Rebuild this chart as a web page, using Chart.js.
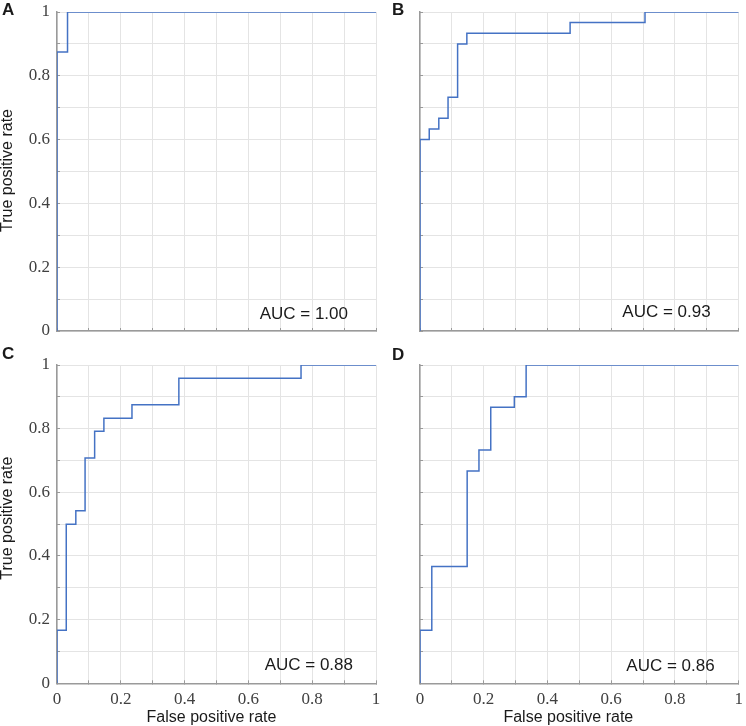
<!DOCTYPE html>
<html>
<head>
<meta charset="utf-8">
<script src="https://cdn.jsdelivr.net/npm/chart.js@4.4.0/dist/chart.umd.min.js"></script>
<style>
html,body{margin:0;padding:0;background:#fff;}
#wrap{position:relative;width:746px;height:726px;overflow:hidden;background:#fff;}
canvas{position:absolute;}
.lbl{position:absolute;font:bold 17px "Liberation Sans",Arial,sans-serif;color:#1a1a1a;line-height:1;}
</style>
</head>
<body>
<div id="wrap">
  <canvas id="cA" width="380" height="360" style="left:0px;top:0px;width:380px;height:360px"></canvas>
  <canvas id="cB" width="366" height="360" style="left:380px;top:0px;width:366px;height:360px"></canvas>
  <canvas id="cC" width="390" height="376" style="left:0px;top:350px;width:390px;height:376px"></canvas>
  <canvas id="cD" width="366" height="376" style="left:380px;top:350px;width:366px;height:376px"></canvas>
  <div class="lbl" id="lA" style="left:2px;top:1px"></div>
  <div class="lbl" id="lB" style="left:392px;top:1px"></div>
  <div class="lbl" id="lC" style="left:2px;top:345px"></div>
  <div class="lbl" id="lD" style="left:392px;top:346px"></div>
</div>
<script>
// ---- data (ROC curve vertices) ----
const fprA = [0, 0, 0.033, 0.033, 1];
const tprA = [0, 0.875, 0.875, 1, 1];

const fprB = [0, 0, 0.029, 0.029, 0.059, 0.059, 0.088, 0.088, 0.118, 0.118, 0.147, 0.147, 0.471, 0.471, 0.706, 0.706, 1];
const tprB = [0, 0.6, 0.6, 0.633, 0.633, 0.667, 0.667, 0.733, 0.733, 0.9, 0.9, 0.933, 0.933, 0.967, 0.967, 1, 1];

const fprC = [0, 0, 0.029, 0.029, 0.059, 0.059, 0.088, 0.088, 0.118, 0.118, 0.147, 0.147, 0.235, 0.235, 0.382, 0.382, 0.765, 0.765, 1];
const tprC = [0, 0.167, 0.167, 0.5, 0.5, 0.542, 0.542, 0.708, 0.708, 0.792, 0.792, 0.833, 0.833, 0.875, 0.875, 0.958, 0.958, 1, 1];

const fprD = [0, 0, 0.037, 0.037, 0.148, 0.148, 0.185, 0.185, 0.222, 0.222, 0.296, 0.296, 0.333, 0.333, 1];
const tprD = [0, 0.167, 0.167, 0.367, 0.367, 0.667, 0.667, 0.733, 0.733, 0.867, 0.867, 0.9, 0.9, 1, 1];

const tickLabels = ['0', '0.2', '0.4', '0.6', '0.8', '1'];
const panelLetters = ['A', 'B', 'C', 'D'];
const aucLabels = ['AUC = 1.00', 'AUC = 0.93', 'AUC = 0.88', 'AUC = 0.86'];
const xTitle = 'False positive rate';
const yTitle = 'True positive rate';

// ---- styling ----
const lineColor = '#4472c4';
const gridColor = '#e4e4e4';
const axisColor = '#9a9a9a';
const tickFont = {family: '"Liberation Serif", "Times New Roman", serif', size: 17};
const sansFont = '"Liberation Sans", Arial, sans-serif';

const textPlugin = {
  id: 'panelText',
  afterDatasetsDraw(chart, args, o) {
    const {ctx, chartArea, height} = chart;
    ctx.save();
    ctx.fillStyle = '#1a1a1a';
    ctx.textAlign = 'center';
    ctx.textBaseline = 'middle';
    // AUC annotation
    ctx.font = '17px ' + sansFont;
    ctx.textAlign = 'right';
    ctx.fillText(o.auc, chartArea.right - o.dx, chartArea.bottom - o.dy);
    // axis titles
    ctx.font = '16px ' + sansFont;
    ctx.textAlign = 'center';
    if (o.xTitle) {
      ctx.fillText(xTitle, (chartArea.left + chartArea.right) / 2 + o.xdx, height - 8);
    }
    if (o.yTitle) {
      ctx.translate(8, (chartArea.top + chartArea.bottom) / 2 + o.ydy);
      ctx.rotate(-Math.PI / 2);
      ctx.fillText(yTitle, 0, 0);
    }
    ctx.restore();
  }
};

const panels = [
  {id: 'cA', fpr: fprA, tpr: tprA, auc: aucLabels[0], xLab: false, yLab: true,  yW: 57, xH: 29,   pad: {top: 12, right: 4,   left: 0, bottom: 0}, dx: 28, dy: 17, xdx: 0,   ydy: -1},
  {id: 'cB', fpr: fprB, tpr: tprB, auc: aucLabels[1], xLab: false, yLab: false, yW: 40, xH: 29,   pad: {top: 12, right: 7.3, left: 0, bottom: 0}, dx: 28, dy: 19, xdx: 0,   ydy: 0},
  {id: 'cC', fpr: fprC, tpr: tprC, auc: aucLabels[2], xLab: true,  yLab: true,  yW: 57, xH: 42.7, pad: {top: 15, right: 14,  left: 0, bottom: 0}, dx: 23, dy: 18, xdx: -5,  ydy: -6},
  {id: 'cD', fpr: fprD, tpr: tprD, auc: aucLabels[3], xLab: true,  yLab: false, yW: 40, xH: 42.7, pad: {top: 15, right: 7.3, left: 0, bottom: 0}, dx: 24, dy: 17, xdx: -11, ydy: 0}
];

['lA', 'lB', 'lC', 'lD'].forEach((id, i) => { document.getElementById(id).textContent = panelLetters[i]; });

function labelCb(show) {
  return function (value, index) {
    if (!show) return '';
    return index % 2 === 0 ? tickLabels[index / 2] : '';
  };
}

function zeroPad(scale) {
  scale.paddingTop = 0; scale.paddingBottom = 0; scale.paddingLeft = 0; scale.paddingRight = 0;
}

panels.forEach(p => {
  const pts = p.fpr.map((x, i) => ({x: x, y: p.tpr[i]}));
  new Chart(document.getElementById(p.id), {
    type: 'line',
    data: {
      datasets: [{
        data: pts,
        borderColor: lineColor,
        borderWidth: 1.5,
        pointRadius: 0,
        tension: 0,
        fill: false
      }]
    },
    plugins: [textPlugin],
    options: {
      responsive: false,
      animation: false,
      events: [],
      layout: {padding: p.pad},
      plugins: {
        legend: {display: false},
        tooltip: {enabled: false},
        panelText: {auc: p.auc, dx: p.dx, dy: p.dy, xTitle: p.xLab, yTitle: p.yLab, xdx: p.xdx, ydy: p.ydy}
      },
      scales: {
        x: {
          type: 'linear', min: 0, max: 1,
          grid: {color: gridColor, lineWidth: 1, tickColor: axisColor, tickLength: -3, tickWidth: 1},
          border: {display: true, color: axisColor, width: 1.5},
          ticks: {stepSize: 0.1, autoSkip: false, maxRotation: 0, font: tickFont, color: '#404040', padding: 9, callback: labelCb(p.xLab)},
          afterFit(scale) { scale.height = p.xH; zeroPad(scale); }
        },
        y: {
          type: 'linear', min: 0, max: 1,
          grid: {color: gridColor, lineWidth: 1, tickColor: axisColor, tickLength: -3, tickWidth: 1},
          border: {display: true, color: axisColor, width: 1.5},
          ticks: {stepSize: 0.1, autoSkip: false, font: tickFont, color: '#404040', padding: 10, callback: labelCb(p.yLab)},
          afterFit(scale) { scale.width = p.yW; zeroPad(scale); }
        }
      }
    }
  });
});
</script>
</body>
</html>
